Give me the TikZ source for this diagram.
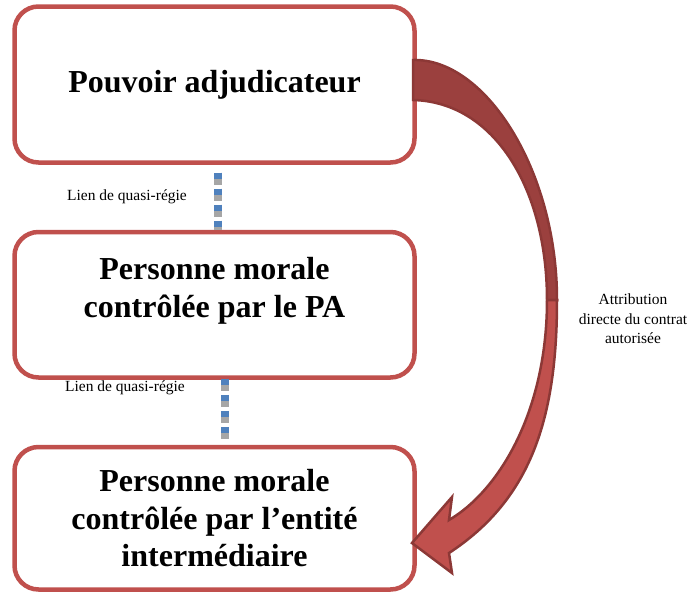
\documentclass[tikz,border=0pt]{standalone}
\usepackage{fontspec}
\setmainfont{Liberation Serif}
\usepackage{tikz}
\usetikzlibrary{positioning}
\definecolor{boxred}{HTML}{C0504D}
\definecolor{arrdark}{HTML}{9B403E}
\definecolor{arredge}{HTML}{8C3836}
\definecolor{lienblue}{HTML}{4F81BD}
\definecolor{liengray}{HTML}{A6A6A6}
\newlength{\vdist}
\tikzstyle{box}=[draw=boxred, line width=4.5pt, rounded corners=24pt, fill=white, minimum width=400pt, align=center, font=\fontsize{32}{37.5}\selectfont\bfseries]
\tikzstyle{lien}=[line width=8pt, dash pattern=on 12.7pt off 3.3pt]
\tikzstyle{lienhaut}=[line width=8pt, dash pattern=on 6.7pt off 9.3pt]
\tikzstyle{note}=[font=\fontsize{15.5}{19.5}\selectfont, align=center]
\tikzstyle{ruban}=[line width=2.5pt, draw=arredge]

\begin{document}
\begin{tikzpicture}[x=1pt, y=1pt]
\useasboundingbox (0,0) rectangle (691,-595);
\setlength{\vdist}{65pt}

\node (pa) [box, minimum height=156pt] at (214.5,-84.5) {Pouvoir adjudicateur};
\node (pm) [box, minimum height=145.5pt, below=\vdist of pa] {Personne morale\\contrôlée par le PA\rule[-35pt]{0pt}{0pt}};
\node (pe) [box, minimum height=142.5pt, below=\vdist of pm] {Personne morale\\contrôlée par l’entité\\intermédiaire};

\draw [lien, draw=liengray, shorten <=7.75pt] ([xshift=3.5pt]pa.south) -- ([xshift=3.5pt]pm.north);
\draw [lienhaut, draw=lienblue, shorten <=7.75pt] ([xshift=3.5pt]pa.south) -- ([xshift=3.5pt]pm.north);
\draw [lien, draw=liengray, shorten <=-1pt, shorten >=4pt] ([xshift=10.5pt]pm.south) -- ([xshift=10.5pt]pe.north);
\draw [lienhaut, draw=lienblue, shorten <=-1pt, shorten >=4pt] ([xshift=10.5pt]pm.south) -- ([xshift=10.5pt]pe.north);

\node (lien1) [note] at (127,-196.5) {Lien de quasi-régie};
\node (lien2) [note] at (125,-388) {Lien de quasi-régie};

% ruban
\draw [ruban, fill=arrdark] (413,-60) .. controls (485,-58) and (557,-170) .. (557,-300)
  -- (547,-300) .. controls (547,-190) and (495,-102) .. (413,-100) -- cycle;
\draw [ruban, fill=boxred] (547,-300) .. controls (547,-410) and (500,-490) .. (449,-520)
  -- (452,-497) -- (412,-543) -- (452,-573) -- (449,-553)
  .. controls (530,-500) and (557,-420) .. (557,-300) -- cycle;

\node (attr) [note] at (633,-319) {Attribution\\directe du contrat\\autorisée};
\end{tikzpicture}
\end{document}
